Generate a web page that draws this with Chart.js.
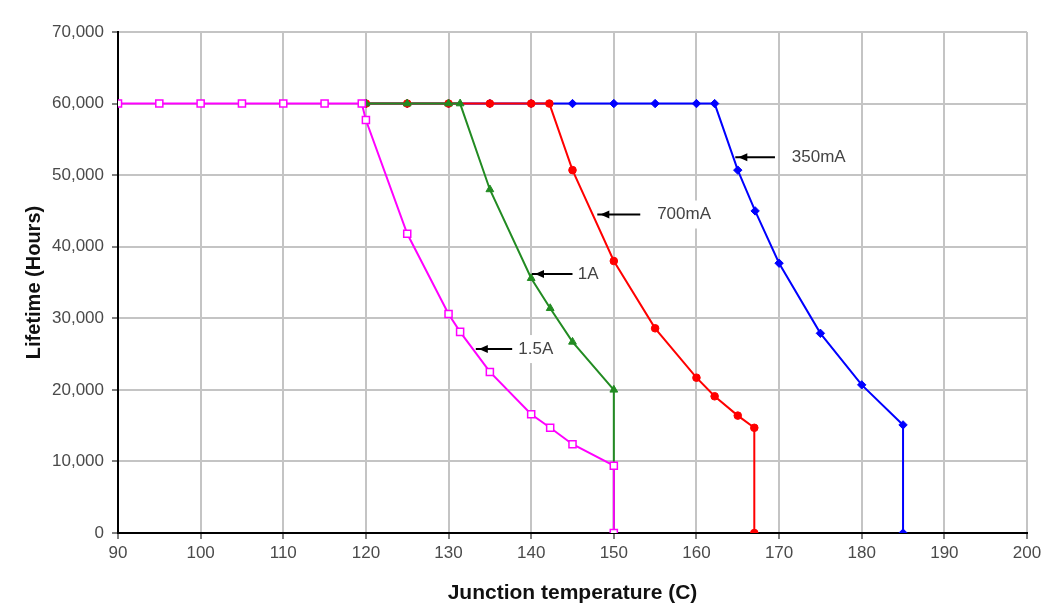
<!DOCTYPE html>
<html>
<head>
<meta charset="utf-8">
<script src="https://cdn.jsdelivr.net/npm/chart.js@4"></script>
<style>
  html, body { margin: 0; padding: 0; background: #fff; }
  #wrap { width: 1053px; height: 610px; }
</style>
</head>
<body>
<div id="wrap"><canvas id="lifeChart" width="1053" height="610"></canvas></div>
<script>
// junction temperature (C) and lifetime (hours)
const tempA15 = [90, 95, 100, 105, 110, 115, 119.5, 120, 125, 130, 131.4, 135, 140, 142.3, 145, 150, 150];
const lifeA15 = [60000, 60000, 60000, 60000, 60000, 60000, 60000, 57700, 41800, 30600, 28100, 22500, 16600, 14700, 12400, 9400, 0];

const tempA1 = [120, 125, 130, 131.4, 135, 140, 142.3, 145, 150, 150];
const lifeA1 = [60000, 60000, 60000, 60000, 48000, 35600, 31400, 26700, 20000, 0];

const temp700 = [120, 125, 130, 135, 140, 142.2, 145, 150, 155, 160, 162.2, 165, 167, 167];
const life700 = [60000, 60000, 60000, 60000, 60000, 60000, 50700, 38000, 28600, 21700, 19100, 16400, 14700, 0];

const temp350 = [120, 125, 130, 135, 140, 145, 150, 155, 160, 162.2, 165, 167.1, 170, 175, 180, 185, 185];
const life350 = [60000, 60000, 60000, 60000, 60000, 60000, 60000, 60000, 60000, 60000, 50700, 45000, 37700, 27900, 20700, 15100, 0];

const xTicks = [90, 100, 110, 120, 130, 140, 150, 160, 170, 180, 190, 200];
const yTicks = [0, 10000, 20000, 30000, 40000, 50000, 60000, 70000];

// callout labels with arrows: [text, textX, arrowTailX, arrowTipX, y]
const callouts = [
  ['350mA', 171.3, 169.5, 164.7, 52500],
  ['700mA', 155.0, 153.2, 148.0, 44500],
  ['1A',    145.4, 145.0, 140.1, 36200],
  ['1.5A',  138.2, 137.7, 133.3, 25700]
];

const FONT = '"Liberation Sans", Arial, sans-serif';
const pts = (xs, ys) => xs.map((x, i) => ({ x: x, y: ys[i] }));

const calloutPlugin = {
  id: 'callouts',
  afterDatasetsDraw(chart) {
    const { ctx, scales: { x, y } } = chart;
    ctx.save();
    ctx.font = '17px ' + FONT;
    ctx.textBaseline = 'middle';
    callouts.forEach(([text, tx, tail, tip, val]) => {
      const py = y.getPixelForValue(val);
      const px = x.getPixelForValue(tx);
      const w = ctx.measureText(text).width;
      ctx.fillStyle = '#fff';
      ctx.fillRect(px - 2, py - 14, w + 10, 28);
      ctx.fillStyle = '#444';
      ctx.fillText(text, px + 2, py);
      const x1 = x.getPixelForValue(tail);
      const x2 = x.getPixelForValue(tip);
      ctx.strokeStyle = '#000';
      ctx.lineWidth = 2;
      ctx.beginPath();
      ctx.moveTo(x1, py);
      ctx.lineTo(x2, py);
      ctx.stroke();
      ctx.fillStyle = '#000';
      ctx.beginPath();
      ctx.moveTo(x2 + 3, py);
      ctx.lineTo(x2 + 12, py - 4);
      ctx.lineTo(x2 + 12, py + 4);
      ctx.closePath();
      ctx.fill();
    });
    ctx.restore();
  }
};

new Chart(document.getElementById('lifeChart'), {
  type: 'line',
  data: {
    datasets: [
      {
        label: '1.5A', data: pts(tempA15, lifeA15),
        borderColor: '#ff00ff', backgroundColor: '#ffffff', borderWidth: 2,
        pointStyle: 'rect', pointRadius: 5, pointBorderWidth: 1.5, pointBorderColor: '#ff00ff'
      },
      {
        label: '1A', data: pts(tempA1, lifeA1),
        borderColor: '#228b22', backgroundColor: '#228b22', borderWidth: 2,
        pointStyle: 'triangle', pointRadius: 4.5, pointBorderWidth: 1
      },
      {
        label: '700mA', data: pts(temp700, life700),
        borderColor: '#ff0000', backgroundColor: '#ff0000', borderWidth: 2,
        pointStyle: 'circle', pointRadius: 3.8, pointBorderWidth: 1
      },
      {
        label: '350mA', data: pts(temp350, life350),
        borderColor: '#0000ff', backgroundColor: '#0000ff', borderWidth: 2,
        pointStyle: 'rectRot', pointRadius: 4.2, pointBorderWidth: 1
      }
    ]
  },
  options: {
    responsive: false,
    animation: false,
    layout: { padding: { top: 32, right: 26, left: 0, bottom: 0 } },
    plugins: { legend: { display: false }, tooltip: { enabled: false } },
    elements: { line: { tension: 0 } },
    scales: {
      x: {
        type: 'linear', min: 90, max: 200,
        afterBuildTicks: (s) => { s.ticks = xTicks.map(v => ({ value: v })); },
        afterFit: (s) => { s.height = 77; },
        border: { color: '#000', width: 2 },
        grid: { color: '#c4c4c4', lineWidth: 2, tickLength: 6, tickColor: '#000', tickWidth: 1 },
        ticks: { color: '#4a4a4a', padding: 4, font: { family: FONT, size: 17 } },
        title: {
          display: true, text: 'Junction temperature (C)', color: '#111',
          font: { family: FONT, size: 21, weight: 'bold' },
          padding: { top: 0, bottom: 4 }
        }
      },
      y: {
        min: 0, max: 70000,
        afterBuildTicks: (s) => { s.ticks = yTicks.map(v => ({ value: v })); },
        afterFit: (s) => { s.width = 118; },
        border: { color: '#000', width: 2 },
        grid: { color: '#c4c4c4', lineWidth: 2, tickLength: 6, tickColor: '#000', tickWidth: 1 },
        ticks: {
          color: '#4a4a4a', padding: 8,
          font: { family: FONT, size: 17 },
          callback: (v) => v.toLocaleString('en-US')
        },
        title: {
          display: true, text: 'Lifetime (Hours)', color: '#111',
          font: { family: FONT, size: 20, weight: 'bold' },
          padding: { top: 22, bottom: 0 }
        }
      }
    }
  },
  plugins: [calloutPlugin]
});
</script>
</body>
</html>
